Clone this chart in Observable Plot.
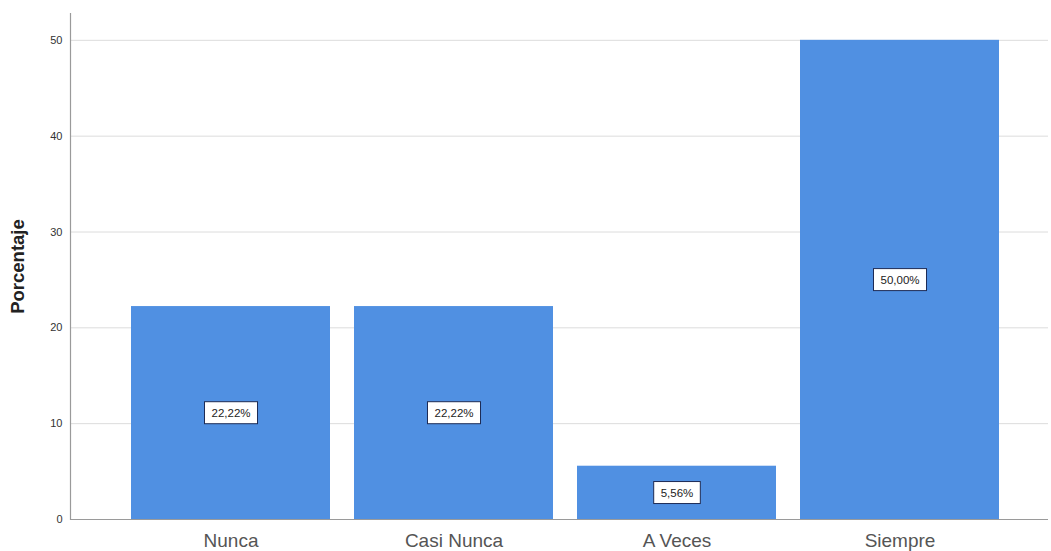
<!DOCTYPE html>
<html>
<head>
<meta charset="utf-8">
<script src="https://cdn.jsdelivr.net/npm/d3@7"></script>
<script src="https://cdn.jsdelivr.net/npm/@observablehq/plot@0.6"></script>
<style>
  html, body { margin: 0; padding: 0; background: #ffffff; }
  #chart { width: 1051px; height: 551px; }
</style>
</head>
<body>
<div id="chart"></div>
<script>
const categories = ["Nunca", "Casi Nunca", "A Veces", "Siempre"];
const percentages = [22.22, 22.22, 5.56, 50.00];
const valueLabels = ["22,22%", "22,22%", "5,56%", "50,00%"];
const yTicks = [0, 10, 20, 30, 40, 50];
const yLabel = "Porcentaje";

const data = categories.map((c, i) => ({cat: c, value: percentages[i], label: valueLabels[i]}));

const barColor = "#5090e2";
const font = "'Liberation Sans', Arial, sans-serif";

const chart = Plot.plot({
  width: 1051,
  height: 551,
  marginTop: 13,
  marginBottom: 32,
  marginLeft: 70,
  marginRight: 3,
  style: {fontFamily: font, background: "#ffffff", overflow: "visible"},
  x: {domain: categories, range: [118, 1012], paddingInner: 0.108, paddingOuter: 0.054},
  y: {domain: [0, 52.8]},
  marks: [
    Plot.ruleY(yTicks.slice(1), {stroke: "#dcdcdc", strokeWidth: 1}),
    Plot.barY(data, {x: "cat", y: "value", fill: barColor}),
    Plot.ruleY([0], {stroke: "#9a9a9a", strokeWidth: 1.2}),
    Plot.frame({anchor: "left", stroke: "#9a9a9a", strokeWidth: 1.2}),
    Plot.axisY({ticks: yTicks, tickSize: 0, tickPadding: 8, fontSize: 11, fill: "#333", label: null}),
    Plot.axisX({tickSize: 0, tickPadding: 14, fontSize: 19, fill: "#555", label: null}),
    Plot.text([yLabel], {frameAnchor: "left", dx: -52, rotate: -90, textAnchor: "middle", fontWeight: "bold", fontSize: 18.5, fill: "#222", lineAnchor: "middle"}),
    Plot.text(data, {x: "cat", y: d => d.value / 2, text: "label", fontSize: 11.5, fill: "#222", lineAnchor: "middle"})
  ]
});

document.getElementById("chart").appendChild(chart);

// draw white boxes with dark border behind each value label
const labelSet = new Set(valueLabels);
chart.querySelectorAll("text").forEach(t => {
  if (!labelSet.has(t.textContent)) return;
  const bb = t.getBBox();
  const padX = 7, padY = 5;
  const rect = document.createElementNS("http://www.w3.org/2000/svg", "rect");
  rect.setAttribute("x", bb.x - padX);
  rect.setAttribute("y", bb.y - padY);
  rect.setAttribute("width", bb.width + 2 * padX);
  rect.setAttribute("height", bb.height + 2 * padY);
  rect.setAttribute("fill", "#ffffff");
  rect.setAttribute("stroke", "#1d2b55");
  rect.setAttribute("stroke-width", "1");
  const tr = t.getAttribute("transform");
  if (tr) rect.setAttribute("transform", tr);
  t.parentNode.insertBefore(rect, t);
});
</script>
</body>
</html>
